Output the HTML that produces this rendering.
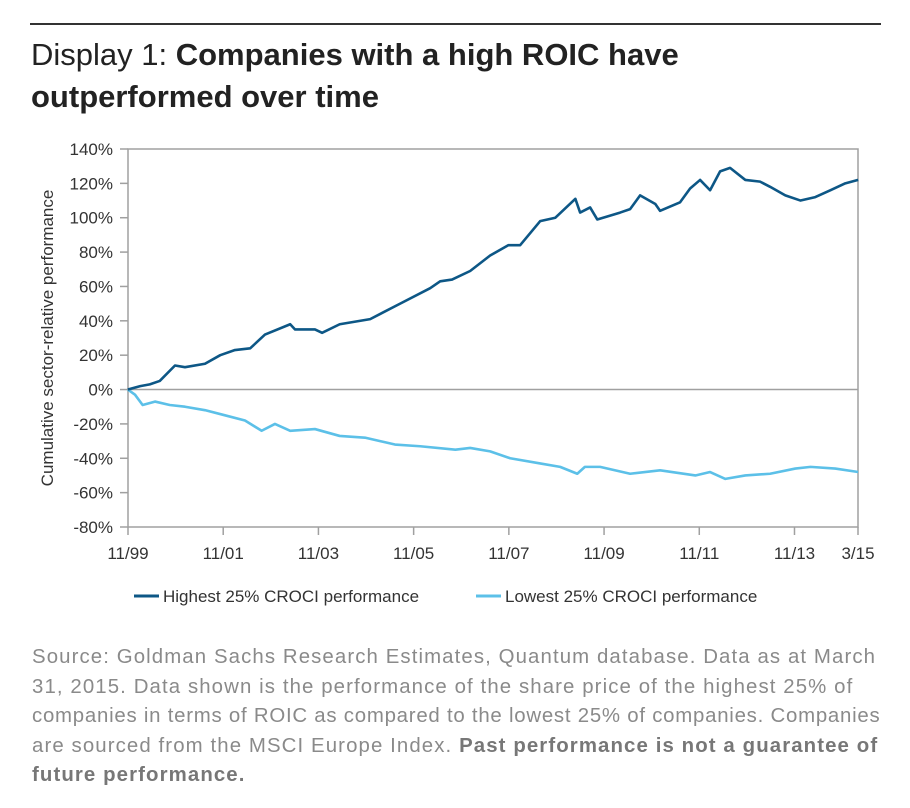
<!DOCTYPE html>
<html><head><meta charset="utf-8"><style>
body{margin:0;background:#fff;width:910px;height:808px;overflow:hidden;font-family:"Liberation Sans",sans-serif;}
.title{position:absolute;left:31px;top:34px;font-size:31px;line-height:42px;color:#222;}
.src{position:absolute;left:32px;top:643px;white-space:nowrap;font-size:20.4px;letter-spacing:1.1px;line-height:29.6px;color:#8a8a8a;}
</style></head><body>
<div style="position:absolute;left:30px;top:23px;width:851px;height:2px;background:#333"></div>
<div class="title"><span style="font-weight:300">Display 1: </span><b>Companies with a high ROIC have<br>outperformed over time</b></div>
<svg id="chart" width="910" height="640" style="position:absolute;left:0;top:0" font-family="Liberation Sans, sans-serif"></svg>
<div class="src">Source: Goldman Sachs Research Estimates, Quantum database. Data as at March<br>31, 2015. Data shown is the performance of the share price of the highest 25% of<br><span style="letter-spacing:0.76px">companies in terms of ROIC as compared to the lowest 25% of companies. Companies</span><br>are sourced from the MSCI Europe Index. <b style="color:#777">Past performance is not a guarantee of<br>future performance.</b></div>
<script>
const yTicks=[140,120,100,80,60,40,20,0,-20,-40,-60,-80];
const xTickDates=[1999.833,2001.833,2003.833,2005.833,2007.833,2009.833,2011.833,2013.833,2015.167];
const xTickLabels=["11/99","11/01","11/03","11/05","11/07","11/09","11/11","11/13","3/15"];
const highDates=[1999.83,2000.09,2000.29,2000.50,2000.82,2001.03,2001.45,2001.77,2002.08,2002.40,2002.71,2003.24,2003.34,2003.76,2003.91,2004.28,2004.92,2005.55,2006.18,2006.39,2006.64,2007.02,2007.44,2007.82,2008.07,2008.49,2008.81,2009.23,2009.33,2009.54,2009.69,2010.17,2010.38,2010.59,2010.91,2011.01,2011.43,2011.64,2011.85,2012.06,2012.27,2012.48,2012.80,2013.11,2013.32,2013.64,2013.96,2014.27,2014.59,2014.90,2015.17];
const highValues=[0,2,3,5,14,13,15,20,23,24,32,38,35,35,33,38,41,50,59,63,64,69,78,84,84,98,100,111,103,106,99,103,105,113,108,104,109,117,122,116,127,129,122,121,118,113,110,112,116,120,122];
const lowDates=[1999.83,1999.98,2000.14,2000.40,2000.71,2001.03,2001.45,2001.87,2002.29,2002.64,2002.92,2003.24,2003.76,2004.28,2004.81,2005.44,2005.97,2006.71,2007.02,2007.44,2007.86,2008.49,2008.91,2009.27,2009.43,2009.75,2010.38,2011.01,2011.75,2012.06,2012.38,2012.80,2013.32,2013.85,2014.17,2014.69,2015.17];
const lowValues=[0,-3,-9,-7,-9,-10,-12,-15,-18,-24,-20,-24,-23,-27,-28,-32,-33,-35,-34,-36,-40,-43,-45,-49,-45,-45,-49,-47,-50,-48,-52,-50,-49,-46,-45,-46,-48];
const X0=128,X1=858,Y0=149,Y1=527;
const sx=d=>X0+(d-1999.833)/(2015.167-1999.833)*(X1-X0);
const sy=v=>Y0+(140-v)/220*(Y1-Y0);
const svg=document.getElementById('chart');const NS='http://www.w3.org/2000/svg';
function mk(t,a){const e=document.createElementNS(NS,t);for(const k in a)e.setAttribute(k,a[k]);svg.appendChild(e);return e;}
const grey='#a0a0a0';
let e=mk('rect',{x:X0,y:Y0,width:X1-X0,height:Y1-Y0,fill:'none',stroke:grey,'stroke-width':1.5});


e=mk('line',{x1:X0,x2:X1,y1:sy(0),y2:sy(0),stroke:grey,'stroke-width':1.5});


yTicks.forEach(v=>{
 let t=mk('line',{x1:X0-8,x2:X0,y1:sy(v),y2:sy(v),stroke:grey,'stroke-width':1.5});
 
 
 let l=mk('text',{x:113,y:sy(v)+6,'text-anchor':'end','font-size':17,fill:'#333'});l.textContent=v+'%';
 
 
});
xTickDates.forEach((d,i)=>{
 let t=mk('line',{x1:sx(d),x2:sx(d),y1:Y1,y2:Y1+8,stroke:grey,'stroke-width':1.5});
 
 
 let l=mk('text',{x:sx(d),y:559,'text-anchor':'middle','font-size':17,fill:'#333'});l.textContent=xTickLabels[i];
 
 
});
e=mk('text',{x:0,y:0,transform:'translate(53,338) rotate(-90)','text-anchor':'middle','font-size':17,fill:'#333'});e.textContent='Cumulative sector-relative performance';


function line(ds,vs,c,name){const p=mk('polyline',{points:ds.map((d,i)=>sx(d)+','+sy(vs[i])).join(' '),fill:'none',stroke:c,'stroke-width':2.6,'stroke-linejoin':'round'});
 
 }
line(lowDates,lowValues,'#5cc0e8','lowest-25-line');
line(highDates,highValues,'#0d5786','highest-25-line');
function leg(x,c,txt,name){const g=document.createElementNS(NS,'g');svg.appendChild(g);
 
 
 const l=document.createElementNS(NS,'line');l.setAttribute('x1',x);l.setAttribute('x2',x+25);l.setAttribute('y1',596);l.setAttribute('y2',596);l.setAttribute('stroke',c);l.setAttribute('stroke-width',3);g.appendChild(l);
 const t=document.createElementNS(NS,'text');t.setAttribute('x',x+29);t.setAttribute('y',602);t.setAttribute('font-size',17);t.setAttribute('fill','#333');t.textContent=txt;g.appendChild(t);}
leg(134,'#0d5786','Highest 25% CROCI performance','legend-highest');
leg(476,'#5cc0e8','Lowest 25% CROCI performance','legend-lowest');
</script>
</body></html>
